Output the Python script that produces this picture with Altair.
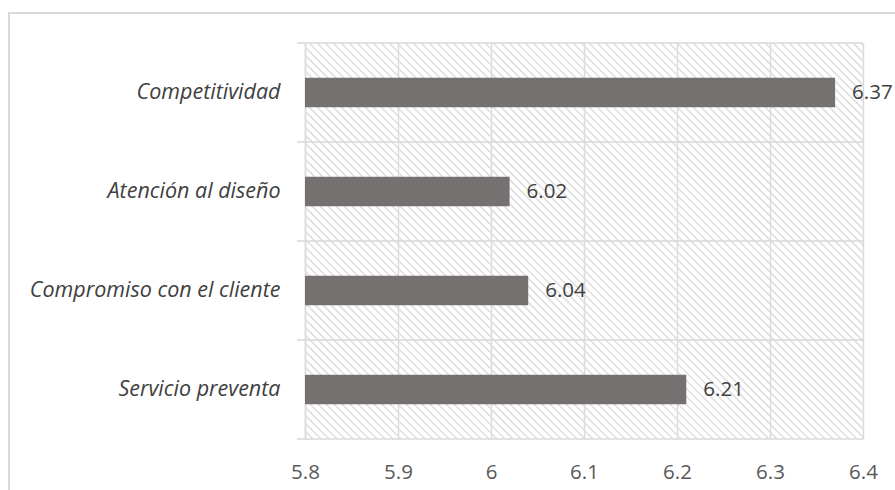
import altair as alt
import pandas as pd

# Category scores (bars drawn top to bottom in this order)
categories = ["Competitividad", "Atención al diseño", "Compromiso con el cliente", "Servicio preventa"]
scores = [6.37, 6.02, 6.04, 6.21]
x_ticks = [5.8, 5.9, 6.0, 6.1, 6.2, 6.3, 6.4]

W, H = 558, 396          # plot area size in px
HATCH_STEP = 8           # horizontal spacing of the diagonal background stripes
FONT = "Open Sans"
GRID = "#d9d9d9"
TEXT = "#404040"

bars_df = pd.DataFrame({"categoria": categories, "valor": scores})
n = len(categories)

x_scale = alt.Scale(domain=[x_ticks[0], x_ticks[-1]], nice=False, zero=False)
y_scale = alt.Scale(domain=categories, paddingInner=0.7, paddingOuter=0.35)

# Background texture: thin diagonal stripes running down to the right, in pixel space
px_x = alt.Scale(domain=[0, W], nice=False, zero=False)
px_y = alt.Scale(domain=[0, H], nice=False, zero=False)

hatch = (
    alt.Chart(bars_df)
    .transform_aggregate(c="count()")
    .transform_calculate(k=f"sequence({-H}, {W}, {HATCH_STEP})")
    .transform_flatten(["k"])
    .transform_calculate(x1="datum.k", x2=f"datum.k + {H}", y1=str(H), y2="0")
    .mark_rule(color="#e0e0e0", strokeWidth=1.6, clip=True)
    .encode(
        x=alt.X("x1:Q", scale=px_x, axis=None),
        x2="x2:Q",
        y=alt.Y("y1:Q", scale=px_y, axis=None),
        y2="y2:Q",
    )
)

# Band separators, each with a short tick stub to the left of the plot
sep_df = pd.DataFrame({"pos": [i * H / n for i in range(n + 1)]})
separators = (
    alt.Chart(sep_df)
    .mark_rule(color=GRID, strokeWidth=1.5)
    .encode(
        y=alt.Y("pos:Q", scale=px_y, axis=None),
        x=alt.value(-8),
        x2=alt.value(W),
    )
)

# Outer frame around the whole chart
frame = (
    alt.Chart(pd.DataFrame({"f": [0]}))
    .mark_rect(fill=None, stroke=GRID, strokeWidth=2)
    .encode(x=alt.value(-296), x2=alt.value(W + 60), y=alt.value(-30), y2=alt.value(H + 80))
)

x_enc = alt.X(
    "valor:Q",
    scale=x_scale,
    axis=alt.Axis(
        orient="bottom",
        values=x_ticks,
        title=None,
        grid=True,
        gridColor=GRID,
        gridWidth=1.5,
        ticks=False,
        domain=False,
        labelFont=FONT,
        labelFontSize=20.5,
        labelColor="#595959",
        labelPadding=23,
        labelFlush=False,
        labelExpr="format(datum.value, '~g')",
    ),
)
y_enc = alt.Y(
    "categoria:N",
    scale=y_scale,
    sort=categories,
    axis=alt.Axis(
        orient="left",
        title=None,
        ticks=False,
        grid=False,
        domainColor=GRID,
        domainWidth=1.5,
        labelFont=FONT,
        labelFontSize=21.5,
        labelFontStyle="italic",
        labelColor=TEXT,
        labelPadding=25,
        labelLimit=400,
    ),
)

bars = alt.Chart(bars_df).mark_bar(color="#767171", clip=True).encode(x=x_enc, y=y_enc)

labels = (
    alt.Chart(bars_df)
    .mark_text(align="left", baseline="middle", dx=17, font=FONT, fontSize=20.5, color=TEXT)
    .encode(x=x_enc, y=y_enc, text=alt.Text("valor:Q", format=".2f"))
)

back = alt.layer(frame, hatch, separators)
front = alt.layer(bars, labels)

chart = (
    alt.layer(back, front)
    .resolve_scale(x="independent", y="independent")
    .properties(
        width=W,
        height=H,
        autosize=alt.AutoSizeParams(type="none"),
        padding={"left": 305, "top": 43, "right": 32, "bottom": 51},
        background="white",
    )
    .configure_view(stroke=None)
)

chart.save("out.html", embed_options={"renderer": "svg", "actions": False})
